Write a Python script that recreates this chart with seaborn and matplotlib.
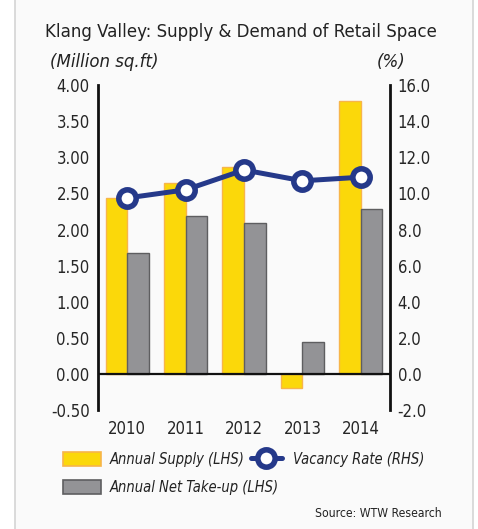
import pandas as pd
import numpy as np
import matplotlib
matplotlib.use("Agg")
import matplotlib.pyplot as plt
import seaborn as sns
from matplotlib.patches import Rectangle, Patch
from matplotlib.lines import Line2D

# data
years = ["2010", "2011", "2012", "2013", "2014"]
annual_supply = [2.44, 2.65, 2.87, -0.20, 3.78]
net_take_up = [1.67, 2.19, 2.09, 0.44, 2.28]
vacancy_rate = [9.75, 10.2, 11.3, 10.7, 10.9]
left_ticks = [-0.5, 0.0, 0.5, 1.0, 1.5, 2.0, 2.5, 3.0, 3.5, 4.0]
right_ticks = [-2.0, 0.0, 2.0, 4.0, 6.0, 8.0, 10.0, 12.0, 14.0, 16.0]

YELLOW = "#fbd80a"
YELLOW_EDGE = "#f7b54a"
GREY = "#939396"
GREY_EDGE = "#5e5e60"
NAVY = "#25398a"

sns.set_style("white")
plt.rcParams["font.family"] = ["DejaVu Sans"]
plt.rcParams["font.stretch"] = "condensed"
plt.rcParams["text.color"] = "#222222"

fig = plt.figure(figsize=(4.78, 5.29), dpi=100)
fig.patch.set_facecolor("white")
# card background
fig.patches.append(Rectangle((15 / 478, -0.01), (473 - 15) / 478, 1.02,
                             transform=fig.transFigure, facecolor="#fafafa",
                             edgecolor="#d4d4d4", lw=1.2, zorder=-5))

ax = fig.add_axes([0.205, 0.225, 0.611, 0.614])
ax.set_facecolor("none")

df = pd.DataFrame({
    "Year": years * 2,
    "Value": annual_supply + net_take_up,
    "Series": ["Annual Supply (LHS)"] * 5 + ["Annual Net Take-up (LHS)"] * 5,
})
sns.barplot(data=df, x="Year", y="Value", hue="Series", ax=ax,
            palette=[YELLOW, GREY], width=0.74, saturation=1, legend=False)
edges = [YELLOW_EDGE] * 5 + [GREY_EDGE] * 5
for bar, ec in zip(ax.patches, edges):
    bar.set_edgecolor(ec)
    bar.set_linewidth(1.0)

ax.set_ylim(-0.5, 4.0)
ax.set_xlim(-0.5, 4.5)
ax.set_yticks(left_ticks)
ax.set_yticklabels([f"{t:.2f}" for t in left_ticks])
ax.axhline(0, color="#111111", lw=1.6, zorder=3)
ax.set_xlabel("")
ax.set_ylabel("")
ax.tick_params(axis="y", length=0, pad=6, labelsize=12)
ax.tick_params(axis="x", length=0, pad=7, labelsize=12)
for s in ["top", "bottom", "right"]:
    ax.spines[s].set_visible(False)
ax.spines["left"].set_color("#111111")
ax.spines["left"].set_linewidth(2)

ax2 = ax.twinx()
sns.pointplot(x=years, y=vacancy_rate, ax=ax2, color=NAVY, markers="o",
              linewidth=3.6, markersize=12.5, markerfacecolor="white",
              markeredgecolor=NAVY, markeredgewidth=4, errorbar=None)
ax2.set_ylim(-2.0, 16.0)
ax2.set_xlim(-0.5, 4.5)
ax2.set_yticks(right_ticks)
ax2.set_yticklabels([f"{t:.1f}" for t in right_ticks])
ax2.tick_params(axis="y", length=0, pad=5.5, labelsize=12)
ax2.set_ylabel("")
for s in ["top", "bottom", "left"]:
    ax2.spines[s].set_visible(False)
ax2.spines["right"].set_visible(True)
ax2.spines["right"].set_color("#111111")
ax2.spines["right"].set_linewidth(2)
ax2.grid(False)

fig.text(0.505, 0.94, "Klang Valley: Supply & Demand of Retail Space",
         ha="center", va="center", fontsize=13.3)
fig.text(0.105, 0.882, "(Million sq.ft)", ha="left", va="center",
         fontsize=12, style="italic", stretch="normal")
fig.text(0.848, 0.882, "(%)", ha="right", va="center",
         fontsize=12, style="italic", stretch="normal")

# two legends so the line entry can sit closer, as in the original
bar_handles = [
    Patch(facecolor=YELLOW, edgecolor=YELLOW_EDGE, lw=1.2),
    Patch(facecolor=GREY, edgecolor=GREY_EDGE, lw=1.2),
]
bar_labels = ["Annual Supply (LHS)", "Annual Net Take-up (LHS)"]
fig.legend(bar_handles, bar_labels, loc="upper left",
           bbox_to_anchor=(0.132, 0.145), frameon=False, borderpad=0,
           borderaxespad=0, prop={"style": "italic", "size": 10.5},
           handlelength=2.6, handleheight=1.1, handletextpad=0.6,
           labelspacing=0.85)
line_handle = Line2D([0], [0], color=NAVY, lw=3.6, marker="o", markersize=12.5,
                     markerfacecolor="white", markeredgecolor=NAVY,
                     markeredgewidth=4)
fig.legend([line_handle], ["Vacancy Rate (RHS)"], loc="upper left",
           bbox_to_anchor=(0.525, 0.145), frameon=False, borderpad=0,
           borderaxespad=0, prop={"style": "italic", "size": 10.5},
           handlelength=2.1, handleheight=1.1, handletextpad=0.8)

fig.text(0.925, 0.03, "Source: WTW Research", ha="right", va="center",
         fontsize=8.7)

fig.savefig("out.png", dpi=100)
